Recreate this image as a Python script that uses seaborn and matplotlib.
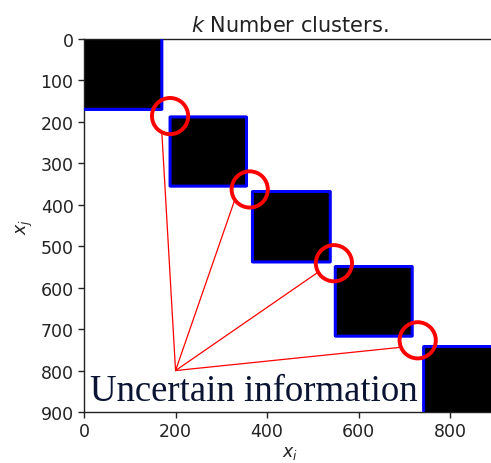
import numpy as np
import matplotlib
matplotlib.use("Agg")
import matplotlib.pyplot as plt
from matplotlib.colors import ListedColormap
import seaborn as sns

# Affinity matrix layout: 900 samples split into 5 clusters (start/end index)
n_samples = 900
block_start = [0, 188, 368, 549, 742]
block_end = [170, 355, 538, 717, 900]

# Ambiguous boundaries between consecutive clusters
circle_x = [188, 362, 546, 729]
circle_y = [186, 363, 541, 727]

# Links from the annotation anchor to each ambiguous boundary
hub_x, hub_y = 200, 800
link_x = [170, 330, 511, 691]
link_y = [225, 386, 563, 744]

x_ticks = [0, 200, 400, 600, 800]
y_ticks = [0, 100, 200, 300, 400, 500, 600, 700, 800, 900]

# Block-diagonal membership matrix
labels = np.full(n_samples, -1)
for k, (s, e) in enumerate(zip(block_start, block_end)):
    labels[s:e] = k
M = ((labels[:, None] == labels[None, :]) & (labels[:, None] >= 0)).astype(float)

sns.set_style("ticks")
fig = plt.figure(figsize=(4.91, 4.64), dpi=100)
ax = fig.add_axes([0.1711, 0.1099, 0.839, 0.8039])

sns.heatmap(M, ax=ax, cmap=ListedColormap(["white", "black"]), vmin=0, vmax=1,
            cbar=False, xticklabels=False, yticklabels=False, rasterized=True)

grid = np.arange(n_samples) + 0.5
ax.contour(grid, grid, M, levels=[0.5], colors="blue", linewidths=2.2, zorder=3)

for lx, ly in zip(link_x, link_y):
    ax.plot([hub_x, lx], [hub_y, ly], color="red", lw=0.9, zorder=4)

ax.scatter(circle_x, circle_y, s=680, facecolors="none", edgecolors="red",
           linewidths=2.8, zorder=5)

ax.text(13, 870, "Uncertain information", family="Liberation Serif",
        fontsize=26.5, color="#0b1533", va="baseline", ha="left", zorder=6)

ax.set_xlim(0, n_samples)
ax.set_ylim(n_samples, 0)
ax.set_xticks(x_ticks)
ax.set_xticklabels([str(t) for t in x_ticks], rotation=0)
ax.set_yticks(y_ticks)
ax.set_yticklabels([str(t) for t in y_ticks], rotation=0)
ax.tick_params(axis="both", direction="out", length=4.5, width=1, labelsize=12.5,
               bottom=True, left=True, colors="#222222", pad=3)

for side in ["left", "top", "bottom"]:
    ax.spines[side].set_visible(True)
    ax.spines[side].set_color("#222222")
    ax.spines[side].set_linewidth(1.0)
ax.spines["right"].set_visible(False)

ax.set_title("$k$ Number clusters.", fontsize=15, color="#222222", pad=6)
ax.set_xlabel("$x_i$", fontsize=12.5, color="#222222", labelpad=2)
ax.set_ylabel("$x_j$", fontsize=12.5, color="#222222", labelpad=4)

fig.savefig("out.png", dpi=100)
